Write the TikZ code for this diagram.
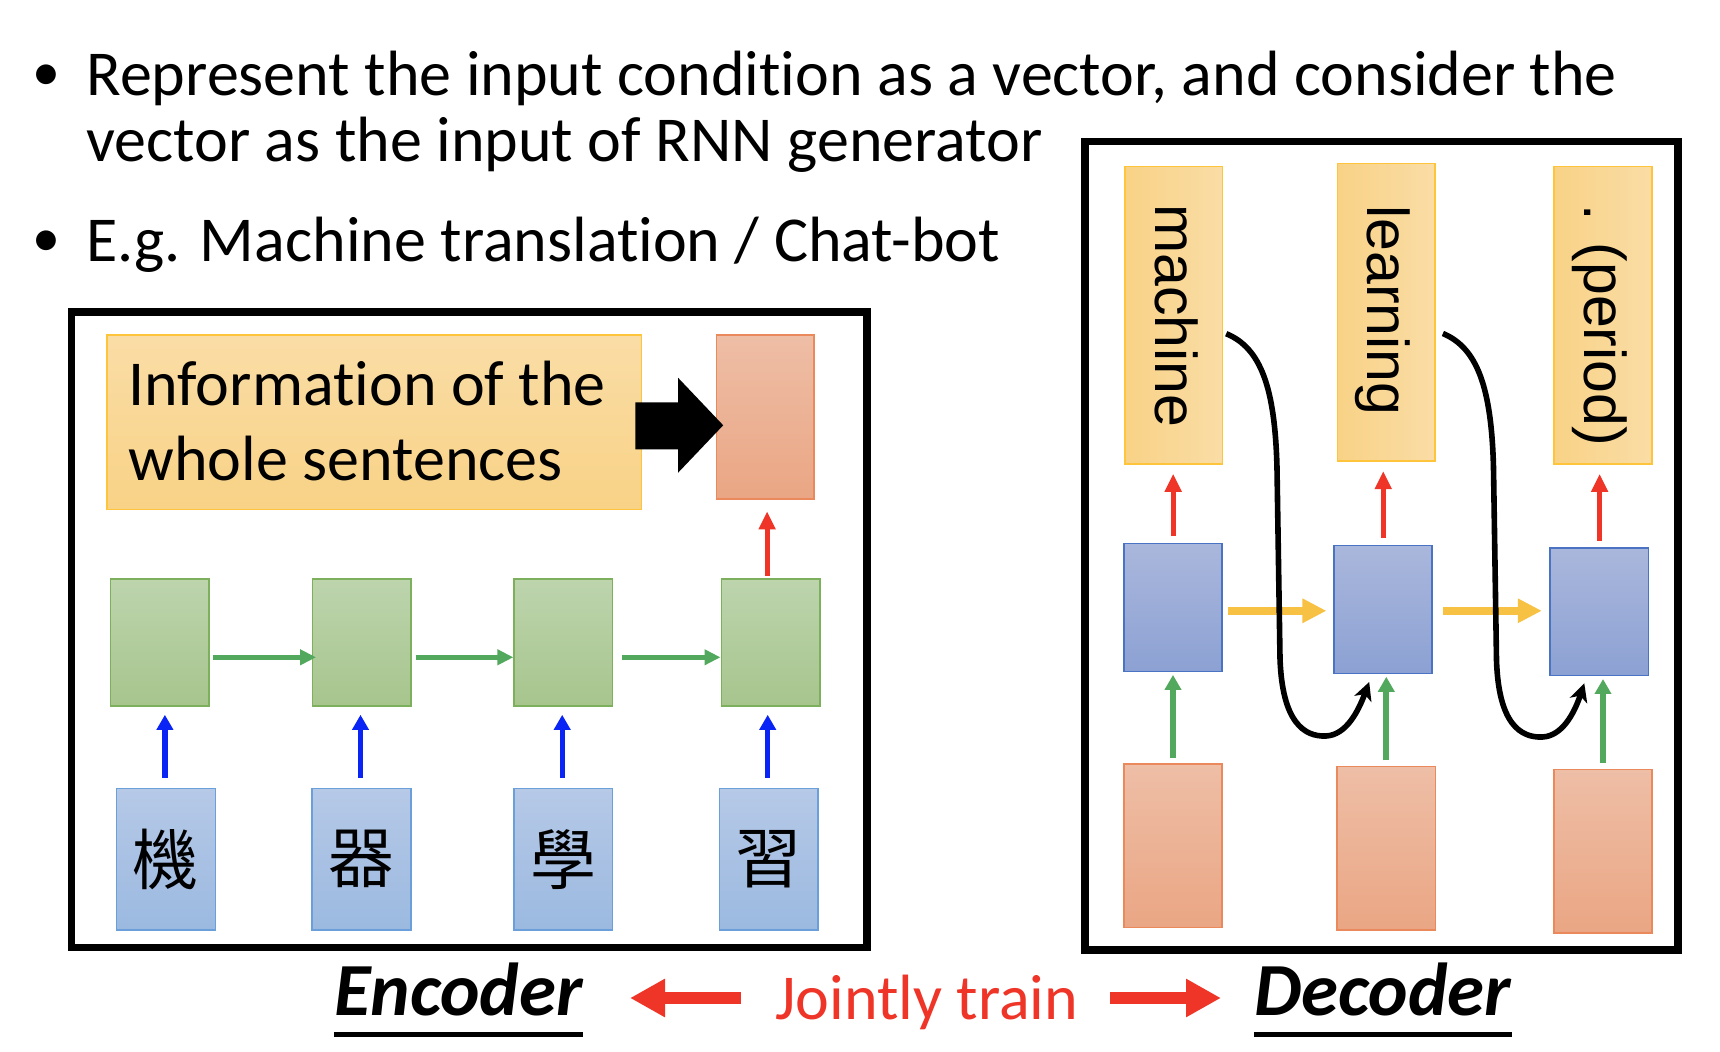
\documentclass[tikz,border=0pt]{standalone}
\usepackage{fontspec}
\setmainfont{Carlito}[Ligatures=NoCommon]
\newfontfamily\rotfont{Liberation Sans}
\newfontfamily\cjkfont{Noto Sans CJK TC}
\usetikzlibrary{arrows.meta,calc}
\definecolor{gtop}{HTML}{BDD4AD}
\definecolor{gbot}{HTML}{A7C58D}
\definecolor{gline}{HTML}{7DB05C}
\definecolor{btop}{HTML}{B6C9E7}
\definecolor{bbot}{HTML}{9BB9E0}
\definecolor{bline}{HTML}{6A9FD9}
\definecolor{dtop}{HTML}{AAB7DC}
\definecolor{dbot}{HTML}{8CA1D3}
\definecolor{dline}{HTML}{4A73C4}
\definecolor{stop}{HTML}{EEBEA6}
\definecolor{sbot}{HTML}{EAA684}
\definecolor{sline}{HTML}{EA8A5C}
\definecolor{ytop}{HTML}{FADDA6}
\definecolor{ybot}{HTML}{F8D286}
\definecolor{yline}{HTML}{FDC43C}
\definecolor{arrgreen}{HTML}{52A95D}
\definecolor{arrblue}{HTML}{0A24F5}
\definecolor{arrred}{HTML}{EE3527}
\definecolor{arryellow}{HTML}{F7C143}
\tikzset{
  bx/.style={rectangle, inner sep=0pt, line width=0.8pt},
  gbox/.style={bx, draw=gline, top color=gtop, bottom color=gbot, minimum width=49.2pt, minimum height=63.5pt},
  ibox/.style={bx, draw=bline, top color=btop, bottom color=bbot, minimum width=49.4pt, minimum height=70.9pt, font=\cjkfont\fontsize{33}{36}\selectfont},
  dbox/.style={bx, draw=dline, top color=dtop, bottom color=dbot, minimum width=49.1pt, minimum height=63.9pt},
  sbox/.style={bx, draw=sline, top color=stop, bottom color=sbot, minimum width=49.1pt, minimum height=81.8pt},
  wbox/.style={bx, draw=yline, left color=ybot, right color=ytop, minimum width=48.8pt, minimum height=148.8pt},
  wtext/.style={inner sep=0pt, rotate=-90, anchor=base west, font=\rotfont\fontsize{29.5}{34}\selectfont},
  txt/.style={inner sep=0pt, anchor=base west, font=\fontsize{32}{38}\selectfont},
  bullet/.style={inner sep=0pt, anchor=base, font=\fontsize{28}{32}\selectfont},
  title/.style={inner sep=0pt, anchor=base west, font=\bfseries\itshape\fontsize{37.5}{42}\selectfont},
  frame/.style={draw=black, line width=3.9pt},
  garrow/.style={draw=arrgreen, line width=2.5pt, -{Triangle[length=8pt,width=7.5pt]}},
  barrow/.style={draw=arrblue, line width=2.6pt, -{Triangle[length=7.5pt,width=8pt]}},
  rarrow/.style={draw=arrred, line width=2.6pt, -{Triangle[length=9pt,width=8pt]}},
  yarrow/.style={draw=arryellow, line width=3.8pt, -{Triangle[length=12pt,width=11.5pt]}},
  dgarrow/.style={draw=arrgreen, line width=3pt, -{Triangle[length=7.5pt,width=8pt]}},
  curvearrow/.style={draw=black, line width=2.8pt, -{Stealth[length=9pt,width=9pt,inset=2.5pt]}},
  bigred/.style={draw=arrred, line width=5.85pt, -{Triangle[length=17.5pt,width=18pt]}},
  uline/.style={draw=black, line width=2.3pt},
}
\begin{document}
\begin{tikzpicture}[x=0.5pt,y=-0.5pt]
\useasboundingbox (0,0) rectangle (1720,1052);
\fill[white] (0,0) rectangle (1720,1052);

% bullets
\node[bullet] (bul1) at (46.7,90.5) {•};
\node[txt] (l1) at (86,96) {Represent the input condition as a vector, and consider the};
\node[txt] (l2) at (86,162) {vector as the input of RNN generator};
\node[bullet] (bul2) at (46.7,256.5) {•};
\node[txt] (l3) at (86,262) {E.g. Machine translation / Chat-bot};

% ===== Encoder =====
\draw[frame] (71.5,311.8) rectangle (867.2,947.5);
\node[bx, draw=yline, top color=ytop, bottom color=ybot, minimum width=267.3pt, minimum height=87.4pt] (info) at (374.3,422.3) {};
\node[txt] (info1) at (128,405.3) {Information of the};
\node[txt] (info2) at (128,481) {whole sentences};
\node[sbox, minimum width=48.9pt, minimum height=82.1pt] (s0) at (765.3,417) {};
\fill[black] (635.3,402.3) -- (678.2,402.3) -- (678.2,377.9) -- (723.2,425.3) -- (678.2,472.6) -- (678.2,449.5) -- (635.3,449.5) -- cycle;

\node[gbox] (g1) at (159.6,642.5) {};
\node[gbox] (g2) at (361.5,642.5) {};
\node[gbox] (g3) at (563.4,642.5) {};
\node[gbox] (g4) at (770.5,642.5) {};

\node[ibox] (b1) at (165.9,859.3) {機};
\node[ibox] (b2) at (361.5,859.3) {器};
\node[ibox] (b3) at (563.2,859.3) {學};
\node[ibox] (b4) at (768.7,859.3) {習};

\foreach \i in {1,2,3,4}{
  \draw[barrow] ([xshift=-0.5pt,yshift=4.85pt]b\i.north) -- ([xshift=-0.5pt,yshift=-4pt]b\i.north |- g\i.south);
}
\draw[garrow] ([xshift=1.6pt,yshift=-7.4pt]g1.east) -- ([xshift=2.3pt,yshift=-7.4pt]g2.west);
\draw[garrow] ([xshift=2.1pt,yshift=-7.4pt]g2.east) -- ([xshift=0pt,yshift=-7.4pt]g3.west);
\draw[garrow] ([xshift=4.5pt,yshift=-7.4pt]g3.east) -- ([xshift=0pt,yshift=-7.4pt]g4.west);
\draw[rarrow] ([xshift=-1.7pt,yshift=1pt]g4.north) -- ([xshift=-1.7pt,yshift=-5.7pt]g4.north |- s0.south);

% ===== Decoder =====
\draw[frame] (1085.2,141.6) rectangle (1677.8,950);
\node[wbox] (w1) at (1173.6,315.2) {};
\node[wbox] (w2) at (1386.3,312.5) {};
\node[wbox] (w3) at (1603,315.2) {};
\node[wtext] (t1) at (1155,204) {machine};
\node[wtext] (t2) at (1367.5,205) {learning};
\node[wtext] (t3) at (1584.5,204) {. (period)};

\node[dbox] (d1) at (1172.8,607.6) {};
\node[dbox] (d2) at (1382.8,609.5) {};
\node[dbox] (d3) at (1599.2,611.7) {};

\node[sbox] (p1) at (1173,845.9) {};
\node[sbox] (p2) at (1386.3,848.5) {};
\node[sbox] (p3) at (1603,851.2) {};

\draw[rarrow] ([xshift=0.2pt,yshift=3.2pt]d1.north) -- ([xshift=0.2pt,yshift=-4.5pt]d1.north |- w1.south);
\draw[rarrow] ([xshift=0.2pt,yshift=3.2pt]d2.north) -- ([xshift=0.2pt,yshift=-4.5pt]d2.north |- w2.south);
\draw[rarrow] ([xshift=0.2pt,yshift=3.2pt]d3.north) -- ([xshift=0.2pt,yshift=-4.5pt]d3.north |- w3.south);

\draw[dgarrow] ([yshift=2.7pt]p1.north) -- ([yshift=-1.3pt]p1.north |- d1.south);
\draw[dgarrow] ([yshift=2.7pt]p2.north) -- ([yshift=-1.3pt]p2.north |- d2.south);
\draw[dgarrow] ([yshift=2.7pt]p3.north) -- ([yshift=-1.3pt]p3.north |- d3.south);

\coordinate (ya1) at ($(d1.east)+(5.3,3.2)$);
\draw[yarrow] (ya1) -- ($(d2.west |- ya1)+(-6.5,0)$);
\coordinate (ya2) at ($(d2.east)+(10.6,1.3)$);
\draw[yarrow] (ya2) -- ($(d3.west |- ya2)+(-7.5,0)$);

\draw[curvearrow] ($(w1.east)+(3,18.5)$) .. controls (1261,348) and (1275,388) .. (1277,468)
  -- (1280,658) .. controls (1282,722) and (1304,737) .. (1326,736)
  .. controls (1346,735) and (1358,712) .. ($(d2.south west)+(36.3,7.8)$);
\draw[curvearrow] ($(w2.east)+(7,21)$) .. controls (1477.5,348) and (1491.5,388) .. (1493.5,468)
  -- (1496.5,660) .. controls (1498.5,724) and (1520.5,738) .. (1542.5,737)
  .. controls (1562,736) and (1574,714) .. ($(d3.south west)+(35,7)$);

% ===== bottom labels =====
\node[title] (enc) at (334,1015) {Encoder};
\node[title] (dec) at (1254,1015) {Decoder};
\node[txt, text=arrred] (jt) at (775,1020) {Jointly train};
\draw[uline] ([yshift=-9.65pt]enc.base west) -- ([yshift=-9.65pt]enc.base east);
\draw[uline] ([yshift=-9.65pt]dec.base west) -- ([yshift=-9.65pt]dec.base east);
\coordinate (jl) at (741,998);
\coordinate (jr) at (1110,998);
\coordinate (jlt) at (630,998);
\coordinate (jrt) at (1221,998);
\draw[bigred] (jl) -- (jlt);
\draw[bigred] (jr) -- (jrt);
\end{tikzpicture}
\end{document}
